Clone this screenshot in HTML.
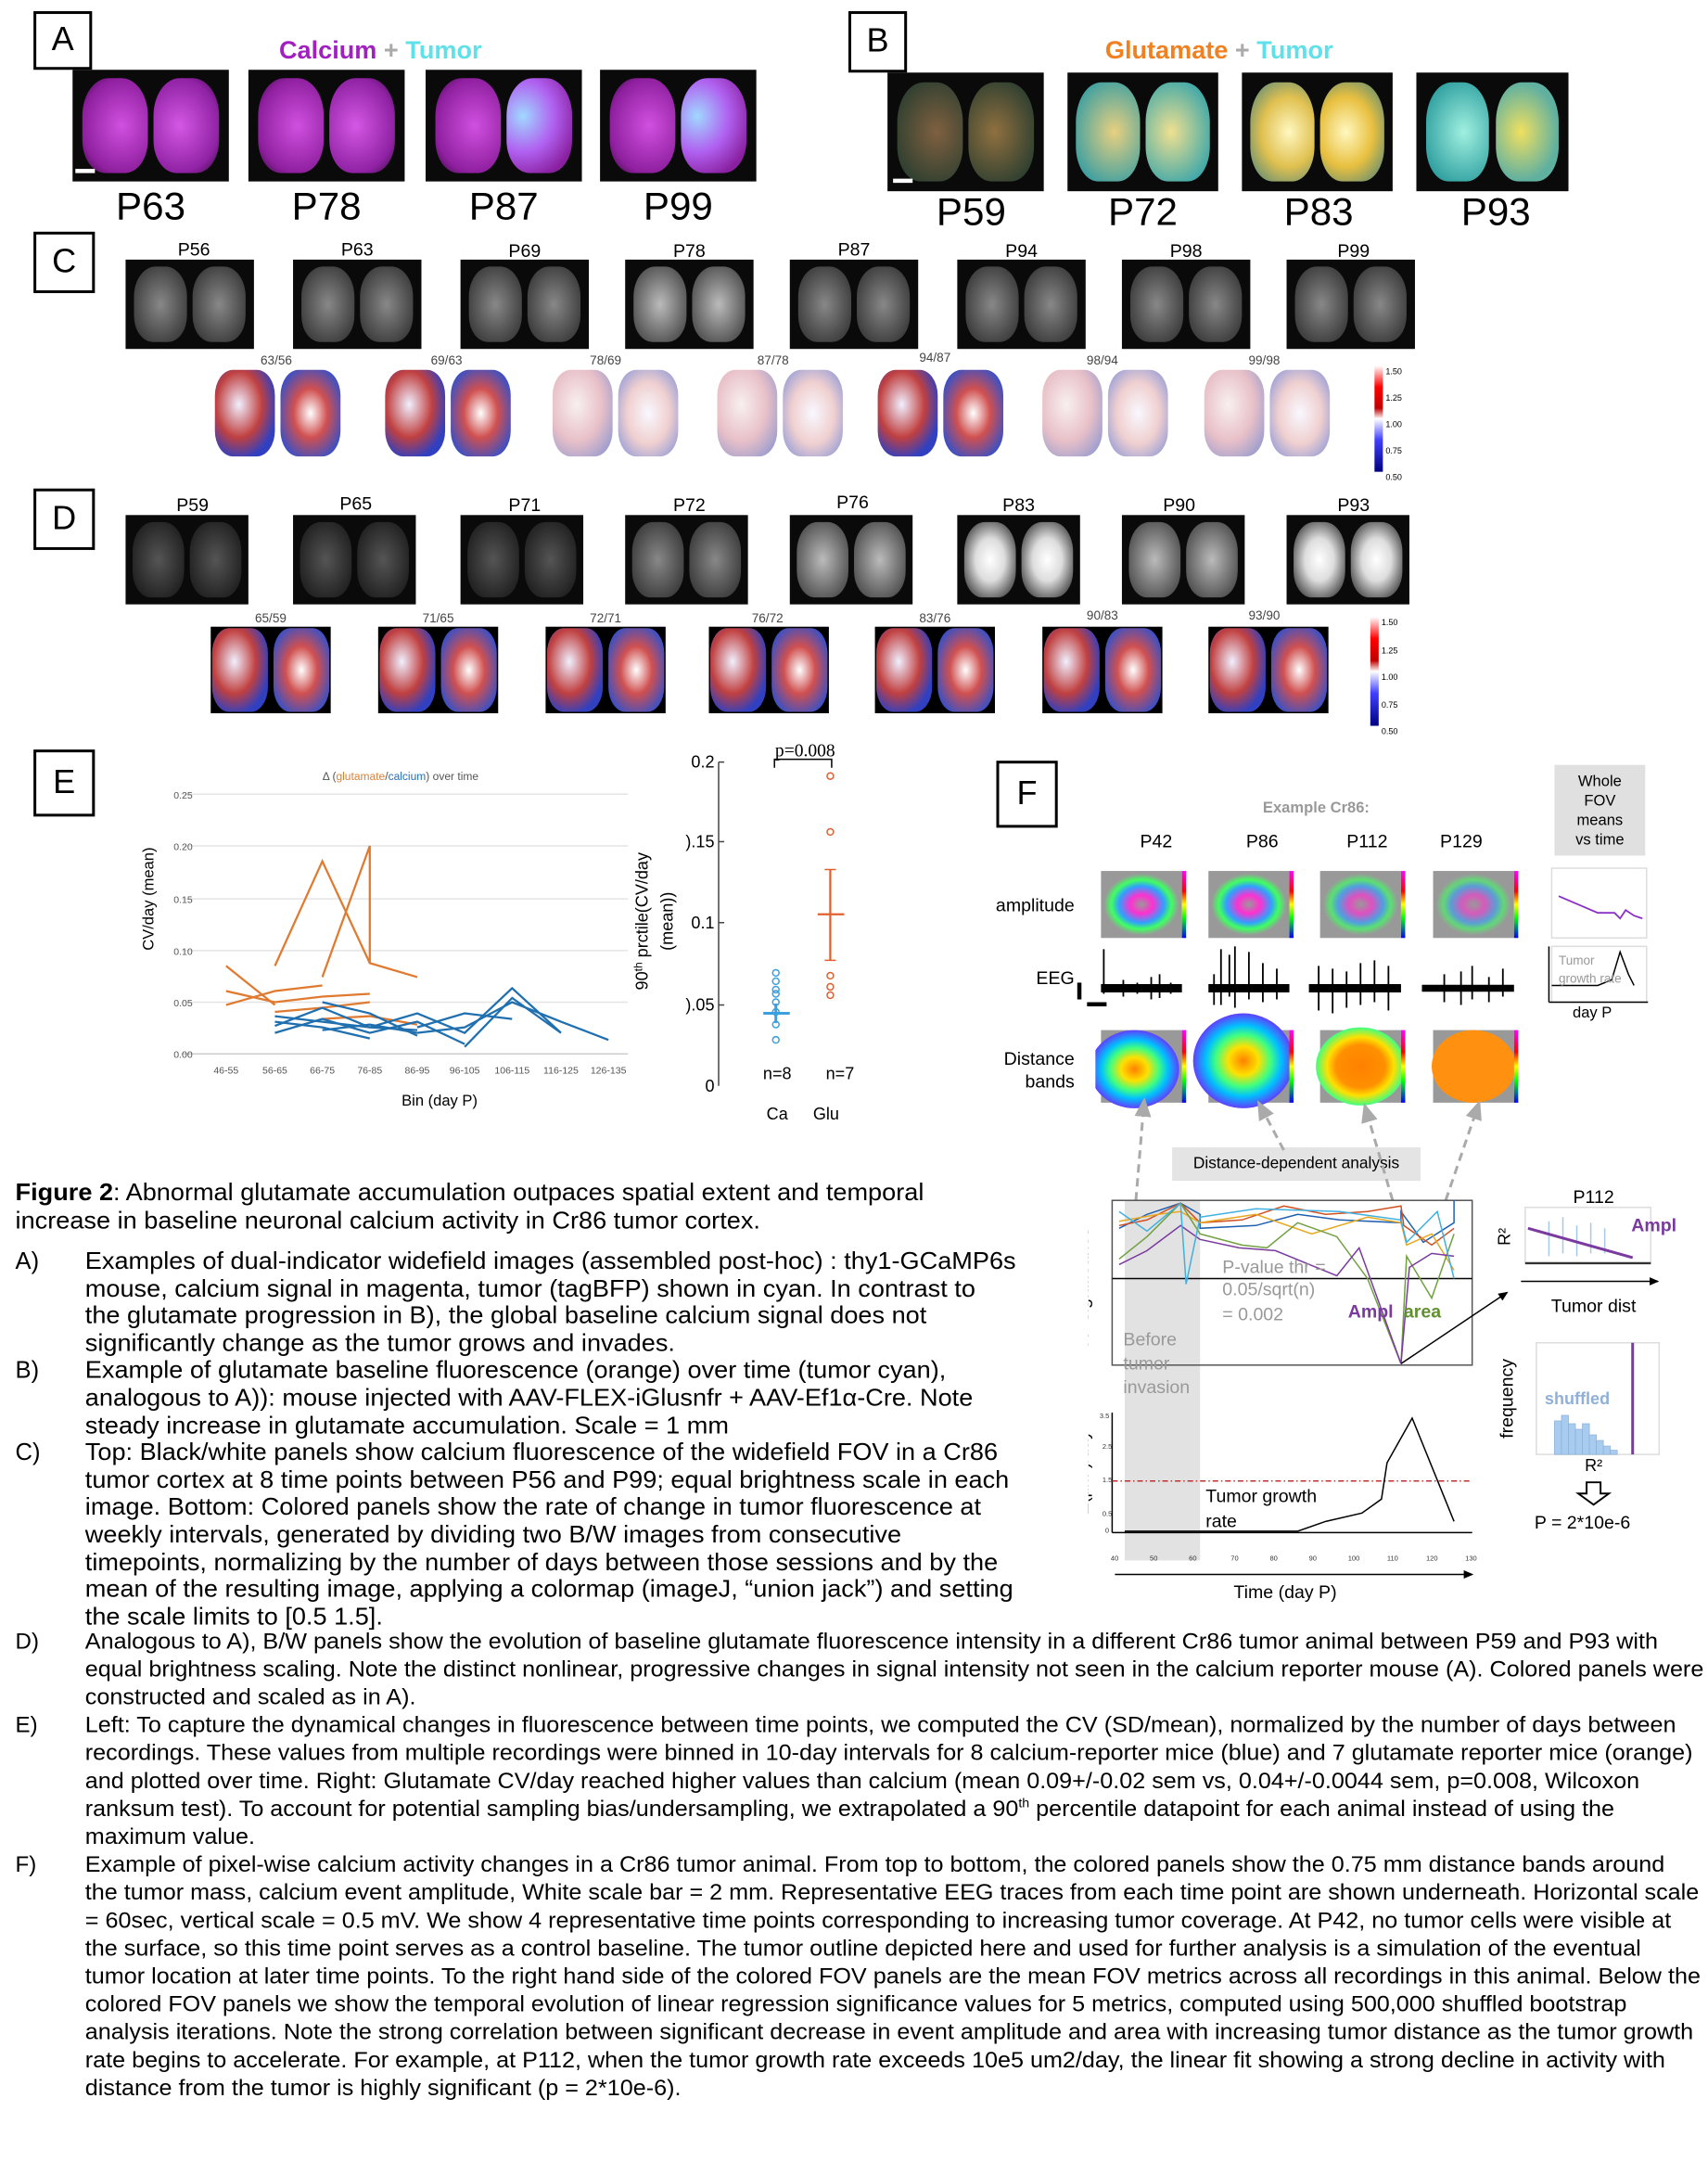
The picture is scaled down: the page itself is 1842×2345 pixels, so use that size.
<!DOCTYPE html>
<html><head><meta charset="utf-8"><style>
html,body{margin:0;padding:0;background:#fff;}
body{width:1842px;height:2344px;overflow:hidden;position:relative;font-family:"Liberation Sans",sans-serif;}
#s{position:absolute;left:0;top:0;width:1224px;height:1558px;transform:scale(1.5049);transform-origin:0 0;}
.a{position:absolute;}
.box{position:absolute;border:2px solid #000;font-size:24px;text-align:center;background:#fff;}
.lab{position:absolute;font-size:28px;text-align:center;width:100px;}
.sl{position:absolute;font-size:13px;text-align:center;width:80px;}
.tl{position:absolute;font-size:9px;color:#444;text-align:center;width:60px;}
.br{position:absolute;background:#0a0a0a;overflow:hidden;}
.br::before,.br::after{content:"";position:absolute;top:8%;width:42%;height:84%;border-radius:40% 40% 35% 35%;}
.br::before{left:6%;}.br::after{right:6%;}
.mag::before{background:radial-gradient(ellipse at 60% 50%,#d050e0,#9020a0 70%,#300838);}
.mag::after{background:radial-gradient(ellipse at 40% 50%,#d458e4,#9022a4 70%,#300838);}
.mag2::after{background:radial-gradient(ellipse at 25% 40%,#a0d8ff,#b060f0 45%,#8a20a0 80%);}
.glu::before{background:radial-gradient(ellipse at 60% 50%,#806040,#304030 80%);}
.glu::after{background:radial-gradient(ellipse at 40% 50%,#907040,#304030 80%);}
.glu2::before{background:radial-gradient(ellipse at 60% 50%,#e8d080,#40a0a0 80%);}
.glu2::after{background:radial-gradient(ellipse at 40% 50%,#f0e090,#40a8a8 80%);}
.glu3::before{background:radial-gradient(ellipse at 60% 50%,#fff8c0,#e0c050 50%,#408080);}
.glu3::after{background:radial-gradient(ellipse at 40% 50%,#fff8c0,#e8c040 50%,#408080);}
.glu4::before{background:radial-gradient(ellipse at 60% 50%,#a0f0e0,#30a0a0 80%);}
.glu4::after{background:radial-gradient(ellipse at 40% 50%,#f0e060,#60b0a0 70%);}
.g1::before,.g1::after{background:radial-gradient(ellipse,#888,#333 90%);}
.g2::before,.g2::after{background:radial-gradient(ellipse,#bbb,#444 90%);}
.g3::before,.g3::after{background:radial-gradient(ellipse,#555,#1a1a1a 90%);}
.g4::before,.g4::after{background:radial-gradient(ellipse,#fff,#ddd 40%,#333 90%);}
.rc{position:absolute;background:#fff;overflow:hidden;}
.rc::before,.rc::after{content:"";position:absolute;top:2%;width:47%;height:96%;border-radius:30%;}
.rc::before{left:1%;background:radial-gradient(ellipse at 40% 40%,#f0f0ff,#c04040 45%,#3040c0 75%);}
.rc::after{right:1%;background:radial-gradient(ellipse at 50% 50%,#fff,#d05050 40%,#4050c0 80%);}
.rl::before{background:radial-gradient(ellipse at 40% 40%,#f8f0f0,#e8c0c8 50%,#8090d0);}
.rl::after{background:radial-gradient(ellipse at 50% 50%,#f8f8ff,#f0d0d0 50%,#8090d8);}
.rd{background:#000;}
.cb{position:absolute;width:6px;background:linear-gradient(#ffffff,#ff0000 20%,#c00000 40%,#ffffff 50%,#4040ff 70%,#000080);}
.t{position:absolute;font-size:17px;line-height:19.6px;white-space:nowrap;transform:scaleX(1.06);transform-origin:0 0;}
.t2{position:absolute;font-size:16px;line-height:20px;white-space:nowrap;transform:scaleX(1.045);transform-origin:0 0;}
</style></head><body><div id="s">

<div class="box" style="left:24px;top:8px;width:38px;height:38px;line-height:38px;">A</div>
<div class="a" style="left:200px;top:26px;font-size:18px;font-weight:bold;"><span style="color:#a020c0">Calcium</span> <span style="color:#aaa">+</span> <span style="color:#60e0e8">Tumor</span></div>
<div class="br mag" style="left:52px;top:50px;width:112px;height:80px;"></div>
<div class="br mag" style="left:178px;top:50px;width:112px;height:80px;"></div>
<div class="br mag mag2" style="left:305px;top:50px;width:112px;height:80px;"></div>
<div class="br mag mag2" style="left:430px;top:50px;width:112px;height:80px;"></div>
<div class="a" style="left:54px;top:121px;width:14px;height:3px;background:#fff"></div>
<div class="lab" style="left:58px;top:132px;">P63</div><div class="lab" style="left:184px;top:132px;">P78</div><div class="lab" style="left:311px;top:132px;">P87</div><div class="lab" style="left:436px;top:132px;">P99</div>

<div class="box" style="left:608px;top:8px;width:38px;height:40px;line-height:40px;">B</div>
<div class="a" style="left:792px;top:26px;font-size:18px;font-weight:bold;"><span style="color:#f08020">Glutamate</span> <span style="color:#aaa">+</span> <span style="color:#60e0e8">Tumor</span></div>
<div class="br glu" style="left:636px;top:52px;width:112px;height:85px;"></div>
<div class="br glu2" style="left:765px;top:52px;width:108px;height:85px;"></div>
<div class="br glu3" style="left:890px;top:52px;width:108px;height:85px;"></div>
<div class="br glu4" style="left:1015px;top:52px;width:109px;height:85px;"></div>
<div class="a" style="left:640px;top:128px;width:14px;height:3px;background:#fff"></div>
<div class="lab" style="left:646px;top:136px;">P59</div><div class="lab" style="left:769px;top:136px;">P72</div><div class="lab" style="left:895px;top:136px;">P83</div><div class="lab" style="left:1022px;top:136px;">P93</div>

<div class="box" style="left:24px;top:166px;width:40px;height:40px;line-height:40px;">C</div>
<div class="sl" style="left:99px;top:171px;">P56</div><div class="sl" style="left:216px;top:171px;">P63</div><div class="sl" style="left:336px;top:172px;">P69</div><div class="sl" style="left:454px;top:172px;">P78</div><div class="sl" style="left:572px;top:171px;">P87</div><div class="sl" style="left:692px;top:172px;">P94</div><div class="sl" style="left:810px;top:172px;">P98</div><div class="sl" style="left:930px;top:172px;">P99</div>
<div class="br g1" style="left:90px;top:186px;width:92px;height:64px;"></div>
<div class="br g1" style="left:210px;top:186px;width:92px;height:64px;"></div>
<div class="br g1" style="left:330px;top:186px;width:92px;height:64px;"></div>
<div class="br g2" style="left:448px;top:186px;width:92px;height:64px;"></div>
<div class="br g1" style="left:566px;top:186px;width:92px;height:64px;"></div>
<div class="br g1" style="left:686px;top:186px;width:92px;height:64px;"></div>
<div class="br g1" style="left:804px;top:186px;width:92px;height:64px;"></div>
<div class="br g1" style="left:922px;top:186px;width:92px;height:64px;"></div>
<div class="tl" style="left:168px;top:253px;">63/56</div><div class="tl" style="left:290px;top:253px;">69/63</div><div class="tl" style="left:404px;top:253px;">78/69</div><div class="tl" style="left:524px;top:253px;">87/78</div><div class="tl" style="left:640px;top:251px;">94/87</div><div class="tl" style="left:760px;top:253px;">98/94</div><div class="tl" style="left:876px;top:253px;">99/98</div>
<div class="rc" style="left:153px;top:264px;width:92px;height:64px;"></div>
<div class="rc" style="left:275px;top:264px;width:92px;height:64px;"></div>
<div class="rc rl" style="left:395px;top:264px;width:92px;height:64px;"></div>
<div class="rc rl" style="left:513px;top:264px;width:92px;height:64px;"></div>
<div class="rc" style="left:628px;top:264px;width:92px;height:64px;"></div>
<div class="rc rl" style="left:746px;top:264px;width:92px;height:64px;"></div>
<div class="rc rl" style="left:862px;top:264px;width:92px;height:64px;"></div>
<div class="cb" style="left:985px;top:262px;height:76px;"></div>
<div class="a" style="left:993px;top:258px;font-size:6px;line-height:19px;">1.50<br>1.25<br>1.00<br>0.75<br>0.50</div>

<div class="box" style="left:24px;top:350px;width:40px;height:40px;line-height:40px;">D</div>
<div class="sl" style="left:98px;top:354px;">P59</div><div class="sl" style="left:215px;top:353px;">P65</div><div class="sl" style="left:336px;top:354px;">P71</div><div class="sl" style="left:454px;top:354px;">P72</div><div class="sl" style="left:571px;top:352px;">P76</div><div class="sl" style="left:690px;top:354px;">P83</div><div class="sl" style="left:805px;top:354px;">P90</div><div class="sl" style="left:930px;top:354px;">P93</div>
<div class="br g3" style="left:90px;top:369px;width:88px;height:64px;"></div>
<div class="br g3" style="left:210px;top:369px;width:88px;height:64px;"></div>
<div class="br g3" style="left:330px;top:369px;width:88px;height:64px;"></div>
<div class="br g1" style="left:448px;top:369px;width:88px;height:64px;"></div>
<div class="br g2" style="left:566px;top:369px;width:88px;height:64px;"></div>
<div class="br g4" style="left:686px;top:369px;width:88px;height:64px;"></div>
<div class="br g2" style="left:804px;top:369px;width:88px;height:64px;"></div>
<div class="br g4" style="left:922px;top:369px;width:88px;height:64px;"></div>
<div class="tl" style="left:164px;top:438px;">65/59</div><div class="tl" style="left:284px;top:438px;">71/65</div><div class="tl" style="left:404px;top:438px;">72/71</div><div class="tl" style="left:520px;top:438px;">76/72</div><div class="tl" style="left:640px;top:438px;">83/76</div><div class="tl" style="left:760px;top:436px;">90/83</div><div class="tl" style="left:876px;top:436px;">93/90</div>
<div class="rc rd" style="left:151px;top:449px;width:86px;height:62px;"></div>
<div class="rc rd" style="left:271px;top:449px;width:86px;height:62px;"></div>
<div class="rc rd" style="left:391px;top:449px;width:86px;height:62px;"></div>
<div class="rc rd" style="left:508px;top:449px;width:86px;height:62px;"></div>
<div class="rc rd" style="left:627px;top:449px;width:86px;height:62px;"></div>
<div class="rc rd" style="left:747px;top:449px;width:86px;height:62px;"></div>
<div class="rc rd" style="left:866px;top:449px;width:86px;height:62px;"></div>
<div class="cb" style="left:982px;top:442px;height:78px;"></div>
<div class="a" style="left:990px;top:438px;font-size:6px;line-height:19.5px;">1.50<br>1.25<br>1.00<br>0.75<br>0.50</div>

<div class="box" style="left:24px;top:537px;width:40px;height:44px;line-height:44px;">E</div>
<svg class="a" style="left:90px;top:540px" width="380" height="270" font-family="Liberation Sans" >
<g stroke="#e4e4e4" stroke-width="1"><line x1="40" y1="29" x2="360" y2="29"/><line x1="40" y1="66" x2="360" y2="66"/><line x1="40" y1="104" x2="360" y2="104"/><line x1="40" y1="141" x2="360" y2="141"/><line x1="40" y1="178" x2="360" y2="178"/></g>
<line x1="40" y1="215" x2="360" y2="215" stroke="#ccc"/>
<g font-size="7" fill="#555" text-anchor="end"><text x="48" y="32">0.25</text><text x="48" y="69">0.20</text><text x="48" y="107">0.15</text><text x="48" y="144">0.10</text><text x="48" y="181">0.05</text><text x="48" y="218">0.00</text></g>
<g font-size="7" fill="#555" text-anchor="middle"><text x="72" y="229">46-55</text><text x="107" y="229">56-65</text><text x="141" y="229">66-75</text><text x="175" y="229">76-85</text><text x="209" y="229">86-95</text><text x="243" y="229">96-105</text><text x="277" y="229">106-115</text><text x="312" y="229">116-125</text><text x="346" y="229">126-135</text></g>
<text x="197" y="19" font-size="8" fill="#555" text-anchor="middle">Δ (<tspan fill="#e08030">glutamate</tspan>/<tspan fill="#2070c0">calcium</tspan>) over time</text>
<text x="225" y="252" font-size="11" text-anchor="middle">Bin (day P)</text>
<text transform="translate(20,104) rotate(-90)" font-size="11" text-anchor="middle">CV/day (mean)</text>
<g stroke="#e07a30" stroke-width="1.5" fill="none"><polyline points="72,152 107,180"/><polyline points="107,152 141,77 175,150"/><polyline points="141,160 175,66 175,150 209,160"/><polyline points="72,170 107,178 141,174 175,172"/><polyline points="72,180 107,170 141,166"/><polyline points="107,185 141,182 175,178"/><polyline points="141,190 175,188 209,194"/></g>
<g stroke="#2070b0" stroke-width="1.5" fill="none"><polyline points="107,188 141,192 175,196 209,186 243,200 277,168 312,200"/><polyline points="107,195 141,182 175,196 209,198"/><polyline points="141,198 175,194 209,200 243,196 277,178 312,192 346,205"/><polyline points="107,200 141,190 175,200 209,192 243,208"/><polyline points="209,196 243,186 277,190"/><polyline points="243,210 277,175 312,200"/><polyline points="107,192 141,196 175,204"/><polyline points="141,178 175,186 209,202"/></g>
</svg>
<svg class="a" style="left:440px;top:530px" width="180" height="290" font-family="Liberation Sans">
<line x1="75" y1="16" x2="75" y2="248" stroke="#444"/>
<g stroke="#444"><line x1="75" y1="16" x2="79" y2="16"/><line x1="75" y1="73" x2="79" y2="73"/><line x1="75" y1="131" x2="79" y2="131"/><line x1="75" y1="190" x2="79" y2="190"/></g>
<g font-size="12" text-anchor="end"><text x="72" y="20">0.2</text><text x="72" y="77">).15</text><text x="72" y="135">0.1</text><text x="72" y="194">).05</text><text x="72" y="252">0</text></g>
<text transform="translate(24,130) rotate(-90)" font-size="12" text-anchor="middle">90<tspan font-size="8" dy="-4">th</tspan><tspan dy="4"> prctile(CV/day</tspan></text>
<text transform="translate(42,130) rotate(-90)" font-size="12" text-anchor="middle">(mean))</text>
<text x="137" y="12" font-family="Liberation Serif" font-size="13" text-anchor="middle">p=0.008</text>
<polyline points="115,20 115,14 156,14 156,20" fill="none" stroke="#000"/>
<g fill="none" stroke="#3aa0e0"><circle cx="116" cy="167" r="2.3"/><circle cx="116" cy="173" r="2.3"/><circle cx="116" cy="179" r="2.3"/><circle cx="116" cy="182" r="2.3"/><circle cx="116" cy="188" r="2.3"/><circle cx="116" cy="195" r="2.3"/><circle cx="116" cy="204" r="2.3"/><circle cx="116" cy="215" r="2.3"/><line x1="107" y1="196" x2="126" y2="196" stroke-width="2"/><line x1="116" y1="189" x2="116" y2="203" stroke-width="2"/></g>
<g fill="none" stroke="#e06030"><circle cx="155" cy="26" r="2.3"/><circle cx="155" cy="66" r="2.3"/><circle cx="155" cy="169" r="2.3"/><circle cx="155" cy="177" r="2.3"/><circle cx="155" cy="183" r="2.3"/><line x1="146" y1="125" x2="165" y2="125" stroke-width="1.5"/><line x1="155" y1="93" x2="155" y2="158" stroke-width="1.5"/><line x1="151" y1="93" x2="159" y2="93"/><line x1="151" y1="158" x2="159" y2="158"/></g>
<g font-size="12" text-anchor="middle"><text x="117" y="243">n=8</text><text x="162" y="243">n=7</text><text x="117" y="272">Ca</text><text x="152" y="272">Glu</text></g>
</svg>

<div class="box" style="left:714px;top:545px;width:40px;height:44px;line-height:44px;">F</div>
<div class="a" style="left:905px;top:573px;font-size:11px;font-weight:bold;color:#999">Example Cr86:</div>
<div class="a" style="left:1114px;top:548px;width:65px;height:65px;background:#e0e0e0;font-size:11px;text-align:center;line-height:14px;padding-top:5px;box-sizing:border-box;">Whole<br>FOV<br>means<br>vs time</div>
<div class="a" style="left:817px;top:595px;font-size:13px;">P42</div><div class="a" style="left:893px;top:595px;font-size:13px;">P86</div><div class="a" style="left:965px;top:595px;font-size:13px;">P112</div><div class="a" style="left:1032px;top:595px;font-size:13px;">P129</div>
<div class="a" style="left:700px;top:641px;width:70px;text-align:right;font-size:13px;">amplitude</div>
<div class="a" style="left:700px;top:693px;width:70px;text-align:right;font-size:13px;">EEG</div>
<div class="a" style="left:700px;top:751px;width:70px;text-align:right;font-size:13px;line-height:16px;">Distance<br>bands</div>
<div class="a" style="left:772px;top:704px;width:3px;height:12px;background:#000"></div>
<div class="a" style="left:779px;top:718px;width:14px;height:3px;background:#000"></div>
<svg class="a" style="left:785px;top:620px" width="310" height="175">
<defs>
<radialGradient id="am"><stop offset="0" stop-color="#999"/><stop offset="0.3" stop-color="#ff30d0"/><stop offset="0.6" stop-color="#30a0ff"/><stop offset="0.8" stop-color="#40ff60"/><stop offset="1" stop-color="#999"/></radialGradient>
<radialGradient id="db"><stop offset="0" stop-color="#ff8000"/><stop offset="0.3" stop-color="#ffe000"/><stop offset="0.55" stop-color="#40ff80"/><stop offset="0.75" stop-color="#00c0ff"/><stop offset="1" stop-color="#6040ff"/></radialGradient>
<radialGradient id="db2"><stop offset="0" stop-color="#ff8000"/><stop offset="0.55" stop-color="#ff9000"/><stop offset="0.75" stop-color="#ffe000"/><stop offset="1" stop-color="#40ff80"/></radialGradient>
<linearGradient id="cbar" x1="0" y1="0" x2="0" y2="1"><stop offset="0" stop-color="#ff00ff"/><stop offset="0.3" stop-color="#ff0000"/><stop offset="0.5" stop-color="#ffff00"/><stop offset="0.7" stop-color="#00ff00"/><stop offset="1" stop-color="#0000ff"/></linearGradient>
</defs>
<g>
<rect x="4" y="4" width="58" height="48" fill="#999"/><ellipse cx="33" cy="28" rx="27" ry="22" fill="url(#am)"/><rect x="62" y="4" width="3" height="48" fill="url(#cbar)"/>
<rect x="81" y="4" width="58" height="48" fill="#999"/><ellipse cx="110" cy="28" rx="27" ry="22" fill="url(#am)"/><rect x="139" y="4" width="3" height="48" fill="url(#cbar)"/>
<rect x="161" y="4" width="58" height="48" fill="#999"/><ellipse cx="190" cy="28" rx="27" ry="22" fill="url(#am)" opacity="0.7"/><rect x="219" y="4" width="3" height="48" fill="url(#cbar)"/>
<rect x="242" y="4" width="58" height="48" fill="#999"/><ellipse cx="271" cy="28" rx="27" ry="22" fill="url(#am)" opacity="0.6"/><rect x="300" y="4" width="3" height="48" fill="url(#cbar)"/>
</g>
<g stroke="#000" stroke-width="1.2">
<path d="M4 88 L62 88" stroke-width="6"/><path d="M6 60 V92 M40 80 V96 M46 78 V95 M30 84 V92 M20 82 V94 M54 84 V92"/>
<path d="M81 88 L139 88" stroke-width="6"/><path d="M90 60 V100 M96 64 V94 M100 58 V102 M110 62 V96 M120 70 V98 M130 74 V96 M85 78 V100"/>
<path d="M153 88 L219 88" stroke-width="6"/><path d="M160 72 V104 M170 74 V106 M180 76 V102 M190 70 V100 M200 68 V98 M210 72 V104"/>
<path d="M234 88 L300 88" stroke-width="5"/><path d="M250 78 V98 M262 76 V100 M270 72 V96 M282 80 V98 M292 74 V94"/>
</g>
<g>
<rect x="4" y="118" width="58" height="52" fill="#999"/><ellipse cx="28" cy="146" rx="32" ry="28" fill="url(#db)"/><rect x="62" y="118" width="3" height="52" fill="url(#cbar)"/>
<rect x="81" y="118" width="58" height="52" fill="#999"/><ellipse cx="106" cy="140" rx="36" ry="34" fill="url(#db)"/><rect x="139" y="118" width="3" height="52" fill="url(#cbar)"/>
<rect x="161" y="118" width="58" height="52" fill="#999"/><ellipse cx="190" cy="144" rx="32" ry="28" fill="url(#db2)"/><rect x="219" y="118" width="3" height="52" fill="url(#cbar)"/>
<rect x="242" y="118" width="58" height="52" fill="#999"/><ellipse cx="271" cy="144" rx="30" ry="26" fill="#ff9010"/><rect x="300" y="118" width="3" height="52" fill="url(#cbar)"/>
</g>
</svg>
<svg class="a" style="left:1105px;top:618px" width="80" height="115" font-family="Liberation Sans">
<rect x="7" y="4" width="68" height="50" fill="#fff" stroke="#ddd"/>
<polyline points="12,24 26,30 40,36 52,36 56,40 60,34 66,38 72,40" fill="none" stroke="#8a30c8" stroke-width="1.2"/>
<rect x="7" y="60" width="68" height="40" fill="#fff" stroke="#ddd"/>
<polyline points="7,88 40,88 50,84 56,64 62,80 66,88" fill="none" stroke="#000"/>
<text x="12" y="73" font-size="9" fill="#999">Tumor</text><text x="12" y="86" font-size="9" fill="#999">growth rate</text>
<line x1="5" y1="60" x2="5" y2="100" stroke="#000"/><line x1="5" y1="100" x2="76" y2="100" stroke="#000"/>
<text x="22" y="111" font-size="11">day P</text>
</svg>

<div class="a" style="left:840px;top:822px;width:178px;height:24px;background:#e4e4e4;font-size:11.5px;text-align:center;line-height:24px;">Distance-dependent analysis</div>
<svg class="a" style="left:780px;top:780px" width="450" height="380" font-family="Liberation Sans">
<defs><marker id="ar" markerWidth="8" markerHeight="8" refX="6" refY="3" orient="auto"><path d="M0,0 L7,3 L0,6z" fill="#aaa"/></marker>
<marker id="ak" markerWidth="8" markerHeight="8" refX="6" refY="3" orient="auto"><path d="M0,0 L7,3 L0,6z" fill="#000"/></marker></defs>
<g stroke="#aaa" stroke-width="2" stroke-dasharray="6,4" fill="none">
<line x1="34" y1="80" x2="40" y2="8" marker-end="url(#ar)"/><line x1="140" y1="44" x2="122" y2="10" marker-end="url(#ar)"/><line x1="218" y1="80" x2="198" y2="12" marker-end="url(#ar)"/><line x1="256" y1="80" x2="280" y2="10" marker-end="url(#ar)"/></g>
<rect x="26" y="80" width="54" height="258" fill="#e2e2e2"/>
<rect x="17" y="80" width="258" height="118" fill="none" stroke="#555"/>
<line x1="17" y1="136" x2="275" y2="136" stroke="#000"/>
<g fill="none" stroke-width="1">
<polyline points="22,100 42,90 66,82 80,90 80,100 120,98 150,90 180,94 224,96 224,88 240,110 262,96 262,80" stroke="#2060b0"/>
<polyline points="22,98 42,94 66,82 80,96 110,94 140,84 170,90 200,88 224,84 226,98 246,112 262,100" stroke="#d05020"/>
<polyline points="22,95 50,90 66,88 80,96 120,90 160,104 200,92 224,96 228,112 246,104 262,130" stroke="#e8a820"/>
<polyline points="22,122 42,106 66,82 80,104 110,112 128,114 150,96 178,106 200,136 224,197 228,120 246,150 262,104" stroke="#70a040"/>
<polyline points="22,126 42,116 66,98 80,108 108,114 134,116 178,134 194,114 224,197 230,128 246,118 262,120" stroke="#7a3aa0"/>
<polyline points="22,88 42,102 66,82 70,140 80,92 120,86 180,88 224,94 228,110 250,88 262,136" stroke="#40b0e0"/>
</g>
<line x1="224" y1="197" x2="300" y2="146" stroke="#000" marker-end="url(#ak)"/>
<text x="96" y="132" font-size="13" fill="#999">P-value thr =</text><text x="96" y="148" font-size="13" fill="#999">0.05/sqrt(n)</text><text x="96" y="166" font-size="13" fill="#999">= 0.002</text>
<text x="186" y="164" font-size="13" font-weight="bold" fill="#7a3aa0">Ampl</text><text x="206" y="164" font-size="13" font-weight="bold" fill="#609030" dx="20">area</text>
<text x="25" y="184" font-size="13" fill="#999">Before</text><text x="25" y="201" font-size="13" fill="#999">tumor</text><text x="25" y="218" font-size="13" fill="#999">invasion</text>
<text transform="translate(0,142) rotate(-90)" font-size="13" text-anchor="middle">R<tspan font-size="9" dy="-5">2</tspan><tspan dy="5"> significance</tspan></text>
<line x1="17" y1="232" x2="17" y2="318" stroke="#000"/><line x1="17" y1="318" x2="275" y2="318" stroke="#000"/>
<line x1="17" y1="281" x2="275" y2="281" stroke="#c03030" stroke-dasharray="4,2,1,2"/>
<polyline points="26,317 150,317 170,310 196,304 210,294 214,268 232,236 262,310" fill="none" stroke="#000"/>
<text x="84" y="296" font-size="13">Tumor  growth</text><text x="84" y="314" font-size="13">rate</text>
<text transform="translate(0,275) rotate(-90)" font-size="12" text-anchor="middle">Δ(μm²)/day</text>
<g font-size="5" fill="#333"><text x="8" y="236">3.5</text><text x="10" y="258">2.5</text><text x="10" y="282">1.5</text><text x="10" y="306">0.5</text><text x="12" y="318">0</text>
<text x="16" y="338">40</text><text x="44" y="338">50</text><text x="72" y="338">60</text><text x="102" y="338">70</text><text x="130" y="338">80</text><text x="158" y="338">90</text><text x="186" y="338">100</text><text x="214" y="338">110</text><text x="242" y="338">120</text><text x="270" y="338">130</text></g>
<line x1="19" y1="348" x2="275" y2="348" stroke="#000" marker-end="url(#ak)"/>
<text x="141" y="365" font-size="13" text-anchor="middle">Time (day P)</text>
<text x="362" y="82" font-size="13" text-anchor="middle">P112</text>
<rect x="313" y="85" width="90" height="40" fill="#fff" stroke="#ddd"/>
<g stroke="#a8c8e8" stroke-width="1"><line x1="330" y1="95" x2="330" y2="120"/><line x1="340" y1="92" x2="340" y2="118"/><line x1="350" y1="98" x2="350" y2="120"/><line x1="360" y1="96" x2="360" y2="118"/><line x1="370" y1="100" x2="370" y2="118"/></g>
<line x1="315" y1="100" x2="390" y2="121" stroke="#7a3aa0" stroke-width="2"/>
<line x1="313" y1="125" x2="403" y2="125" stroke="#333" stroke-width="1.5"/>
<text x="389" y="102" font-size="13" font-weight="bold" fill="#7a3aa0">Ampl</text>
<text transform="translate(302,106) rotate(-90)" font-size="12" text-anchor="middle">R²</text>
<line x1="310" y1="138" x2="408" y2="138" stroke="#000" marker-end="url(#ak)"/>
<text x="362" y="160" font-size="13" text-anchor="middle">Tumor  dist</text>
<rect x="321" y="182" width="88" height="80" fill="#fff" stroke="#ddd"/>
<g fill="#a8ccf0" stroke="#90b0d8" stroke-width="0.5"><rect x="334" y="238" width="5" height="24"/><rect x="339" y="234" width="5" height="28"/><rect x="344" y="240" width="5" height="22"/><rect x="349" y="244" width="5" height="18"/><rect x="354" y="240" width="5" height="22"/><rect x="359" y="248" width="5" height="14"/><rect x="364" y="252" width="5" height="10"/><rect x="369" y="256" width="5" height="6"/><rect x="374" y="259" width="5" height="3"/></g>
<line x1="390" y1="182" x2="390" y2="262" stroke="#7a3aa0" stroke-width="2"/>
<text x="327" y="226" font-size="12" fill="#90b0d8" font-weight="bold">shuffled</text>
<text transform="translate(304,222) rotate(-90)" font-size="13" text-anchor="middle">frequency</text>
<text x="362" y="274" font-size="12" text-anchor="middle">R²</text>
<path d="M357 282 H367 V290 H373 L362 298 L351 290 H357 Z" fill="#fff" stroke="#000" stroke-width="1.3"/>
<text x="354" y="315" font-size="13" text-anchor="middle">P = 2*10e-6</text>
</svg>

<div class="t" style="left:11px;top:845px;"><b>Figure 2</b>: Abnormal glutamate accumulation outpaces spatial extent and temporal<br>increase in baseline neuronal calcium activity in Cr86 tumor cortex.</div>
<div class="t" style="left:11px;top:894px;transform:none;">A)<br><br><br><br>B)<br><br><br>C)</div>
<div class="t" style="left:61px;top:894px;">Examples of dual-indicator widefield images (assembled post-hoc) : thy1-GCaMP6s<br>mouse, calcium signal in magenta, tumor (tagBFP) shown in cyan. In contrast to<br>the glutamate progression in B), the global baseline calcium signal does not<br>significantly change as the tumor grows and invades.<br>Example of glutamate baseline fluorescence (orange) over time (tumor cyan),<br>analogous to A)): mouse injected with AAV-FLEX-iGlusnfr + AAV-Ef1α-Cre. Note<br>steady increase in glutamate accumulation. Scale = 1 mm<br>Top: Black/white panels show calcium fluorescence of the widefield FOV in a Cr86<br>tumor cortex at 8 time points between P56 and P99; equal brightness scale in each<br>image. Bottom: Colored panels show the rate of change in tumor fluorescence at<br>weekly intervals, generated by dividing two B/W images from consecutive<br>timepoints, normalizing by the number of days between those sessions and by the<br>mean of the resulting image, applying a colormap (imageJ, “union jack”) and setting<br>the scale limits to [0.5 1.5].</div>
<div class="t2" style="left:11px;top:1167px;transform:none;">D)<br><br><br>E)<br><br><br><br><br>F)</div>
<div class="t2" style="left:61px;top:1167px;">Analogous to A), B/W panels show the evolution of baseline glutamate fluorescence intensity in a different Cr86 tumor animal between  P59 and P93 with<br>equal brightness scaling. Note the distinct nonlinear, progressive changes in signal intensity not seen in the calcium reporter mouse (A). Colored panels were<br>constructed and scaled as in A).<br>Left: To capture the dynamical changes in fluorescence between time points, we computed the CV (SD/mean), normalized by the number of days between<br>recordings. These values from multiple recordings were binned in 10-day intervals for 8 calcium-reporter mice (blue) and 7 glutamate reporter mice (orange)<br>and plotted over time. Right: Glutamate CV/day reached higher values than calcium (mean 0.09+/-0.02 sem vs, 0.04+/-0.0044 sem, p=0.008, Wilcoxon<br>ranksum test). To account for potential sampling bias/undersampling, we extrapolated a 90<sup style="font-size:9px;line-height:0">th</sup> percentile datapoint for each animal instead of using the<br>maximum value.<br>Example of pixel-wise calcium activity changes in a Cr86 tumor animal. From top to bottom, the colored panels show the 0.75 mm distance bands around<br>the tumor mass, calcium event amplitude, White scale bar = 2 mm. Representative EEG traces from each time point are shown underneath. Horizontal scale<br>= 60sec, vertical scale = 0.5 mV. We show 4 representative time points corresponding to increasing tumor coverage. At P42, no tumor cells were visible at<br>the surface, so this time point serves as a control baseline. The tumor outline depicted here and used for further analysis is a simulation of the eventual<br>tumor location at later time points. To the right hand side of the colored FOV panels are the mean FOV metrics across all recordings in this animal. Below the<br>colored FOV panels we show the temporal evolution of linear regression significance values for 5 metrics, computed using 500,000 shuffled bootstrap<br>analysis iterations. Note the strong correlation between significant decrease in event amplitude and area with increasing tumor distance as the tumor growth<br>rate begins to accelerate. For example, at P112, when the tumor growth rate exceeds 10e5 um2/day, the linear fit showing a strong decline in activity with<br>distance from the tumor is highly significant (p = 2*10e-6).</div>
</div></body></html>
